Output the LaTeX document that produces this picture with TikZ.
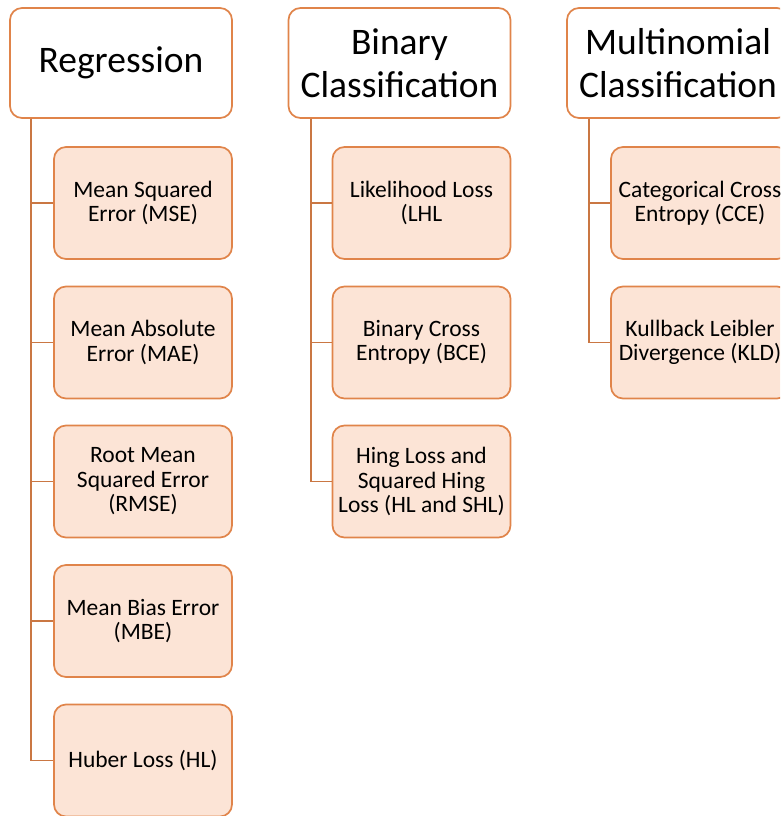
\documentclass[tikz,border=0pt]{standalone}
\usepackage{fontspec}
\setmainfont{Carlito}
\definecolor{edge}{HTML}{E0844A}
\definecolor{peach}{HTML}{FCE4D6}
\begin{document}
\begin{tikzpicture}[x=1pt,y=-1pt,
  header/.style={draw=edge, line width=1.7pt, fill=white, rounded corners=12pt,
    minimum width=222pt, minimum height=110pt, inner sep=0pt, align=center,
    font=\fontsize{37.5}{43}\selectfont, text=black},
  leaf/.style={draw=edge, line width=1.7pt, fill=peach, rounded corners=12pt,
    minimum width=178pt, minimum height=112pt, inner sep=0pt, align=center,
    font=\fontsize{23.5}{24.5}\selectfont, text=black},
  link/.style={draw=edge!90!black, line width=1.9pt}]
\useasboundingbox (0,0) rectangle (780,816);
\clip (0,0) rectangle (780,816);

% column headers
\node[header] (reg) at (121,63)   {Regression};
\node[header] (bin) at (399.5,63) {Binary\\Classification};
\node[header] (mul) at (678,63)   {Multinomial\\Classification};

% regression losses
\node[leaf] (r1) at (143,203)   {Mean Squared\\Error (MSE)};
\node[leaf] (r2) at (143,342.5) {Mean Absolute\\Error (MAE)};
\node[leaf] (r3) at (143,481.5) {Root Mean\\Squared Error\\(RMSE)};
\node[leaf] (r4) at (143,621)   {Mean Bias Error\\(MBE)};
\node[leaf] (r5) at (143,760.5) {Huber Loss (HL)};

% binary classification losses
\node[leaf] (b1) at (421.5,203)   {Likelihood Loss\\(LHL};
\node[leaf] (b2) at (421.5,342.5) {Binary Cross\\Entropy (BCE)};
\node[leaf] (b3) at (421.5,481.5) {Hing Loss and\\Squared Hing\\Loss (HL and SHL)};

% multinomial classification losses
\node[leaf] (m1) at (700,203)   {Categorical Cross\\Entropy (CCE)};
\node[leaf] (m2) at (700,342.5) {Kullback Leibler\\Divergence (KLD)};

% tree connectors
\foreach \c in {r1,r2,r3,r4,r5}
  \draw[link] ([xshift=22pt]reg.south west) |- (\c.west);
\foreach \c in {b1,b2,b3}
  \draw[link] ([xshift=23pt]bin.south west) |- (\c.west);
\foreach \c in {m1,m2}
  \draw[link] ([xshift=23pt]mul.south west) |- (\c.west);
\end{tikzpicture}
\end{document}
